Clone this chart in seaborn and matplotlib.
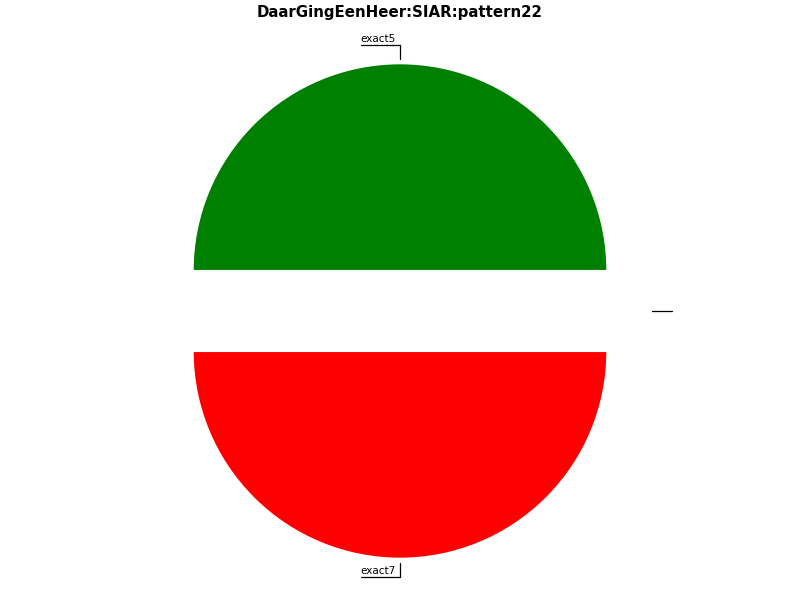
import matplotlib
matplotlib.use('Agg')
import matplotlib.pyplot as plt
import seaborn as sns
import numpy as np

sns.set_style("white")
plt.rcParams['text.color'] = 'black'

# chart data
labels = ['exact5', 'exact7', '']
values = [1, 1, 0]
colors = ['green', 'red', 'white']
title = 'DaarGingEenHeer:SIAR:pattern22'

fig = plt.figure(figsize=(8, 6), dpi=100)
ax = fig.add_axes([0, 0, 1, 1])

explode = [0.195] * len(values)
wedges, _ = ax.pie(values, colors=colors, explode=explode, startangle=0,
                   counterclock=True, radius=1.0)

# the pie is sized by hand: radius ~207 px, centre at (400, 311)
r_px = 207.0
ax.set_xlim(-400 / r_px, 400 / r_px)
ax.set_ylim(-289 / r_px, 311 / r_px)
ax.set_aspect('auto')
ax.axis('off')

texts = []
for w, lab in zip(wedges, labels):
    theta = np.deg2rad((w.theta1 + w.theta2) / 2)
    cx, cy = w.center
    dx, dy = np.cos(theta), np.sin(theta)
    p1 = (cx + 1.02 * dx, cy + 1.02 * dy)
    ext = 1.09 if abs(dy) > 0.5 else 1.12
    p2 = (cx + ext * dx, cy + ext * dy)
    ax.plot([p1[0], p2[0]], [p1[1], p2[1]], color='black', lw=0.9)
    left = dx < 0.1
    tx = p2[0] - 0.02 if left else p2[0] + 0.02
    t = ax.text(tx, p2[1] + 0.005, lab, fontsize=7.5,
                ha='right' if left else 'left', va='bottom')
    texts.append((t, p2, left))

fig.canvas.draw()
renderer = fig.canvas.get_renderer()
inv = ax.transData.inverted()
for t, p2, left in texts:
    if not t.get_text():
        continue
    bb = t.get_window_extent(renderer)
    x0 = inv.transform((bb.x0, bb.y0))[0]
    x1 = inv.transform((bb.x1, bb.y0))[0]
    if left:
        ax.plot([x0, p2[0]], [p2[1], p2[1]], color='black', lw=0.9)
    else:
        ax.plot([p2[0], x1], [p2[1], p2[1]], color='black', lw=0.9)

fig.text(0.5, 1 - 13 / 600, title, ha='center', va='center',
         fontsize=10.8, fontweight='bold')

fig.savefig('out.png', dpi=100)
